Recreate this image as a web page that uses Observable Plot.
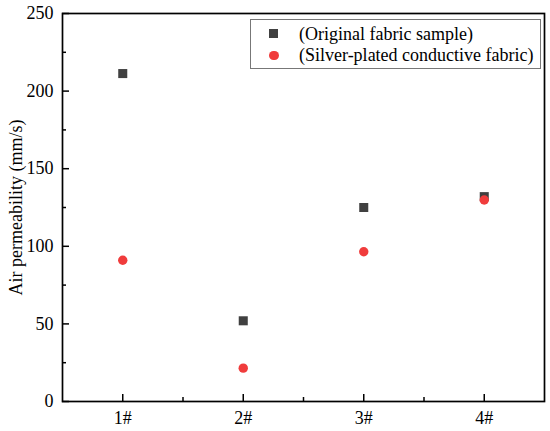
<!DOCTYPE html>
<html>
<head>
<meta charset="utf-8">
<script src="https://cdn.jsdelivr.net/npm/d3@7"></script>
<script src="https://cdn.jsdelivr.net/npm/@observablehq/plot@0.6"></script>
<style>
  body { margin: 0; background: white; }
  #wrap { position: relative; width: 550px; height: 431px; font-family: "Liberation Serif", "Times New Roman", serif; }
  #legend { position: absolute; left: 250px; top: 19px; width: 291px; height: 50px; border: 1px solid #777; box-sizing: border-box; background: white; }
  .row { position: absolute; left: 0; height: 20px; font-size: 18px; line-height: 20px; white-space: nowrap; }
  .row .txt { position: absolute; left: 48px; top: 0; }
  .row .mk { position: absolute; }
</style>
</head>
<body>
<div id="wrap"></div>
<script>
const samples = ["1#", "2#", "3#", "4#"];
const sampleIndex = [1, 2, 3, 4];
const seriesNames = ["(Original fabric sample)", "(Silver-plated conductive fabric)"];
const originalValues = [211.3, 52, 125, 132];
const silverValues = [91, 21.5, 96.5, 129.8];
const yTicks = [0, 50, 100, 150, 200, 250];
const yMinorTicks = [25, 75, 125, 175, 225];
const xMinorTicks = [1.5, 2.5, 3.5];
const colors = ["#404040", "#f03c3c"];

const original = sampleIndex.map((x, i) => ({x, v: originalValues[i]}));
const silver = sampleIndex.map((x, i) => ({x, v: silverValues[i]}));
const blank = () => "";

const chart = Plot.plot({
  width: 550,
  height: 431,
  marginLeft: 62,
  marginRight: 6,
  marginTop: 13,
  marginBottom: 30,
  style: {fontFamily: "Liberation Serif", fontSize: "18px", color: "black", background: "white"},
  x: {type: "linear", domain: [0.5, 4.5]},
  y: {domain: [0, 250]},
  marks: [
    Plot.axisY({ticks: yTicks, tickSize: 0, tickPadding: 9, label: "Air permeability (mm/s)", labelAnchor: "center", labelOffset: 53, labelArrow: "none"}),
    Plot.axisY({ticks: yTicks, tickSize: -7, strokeWidth: 1.5, tickFormat: blank, label: null}),
    Plot.axisY({ticks: yMinorTicks, tickSize: -4, strokeWidth: 1.5, tickFormat: blank, label: null}),
    Plot.axisX({ticks: sampleIndex, tickFormat: d => samples[d - 1], tickSize: 0, tickPadding: 9.5, label: null}),
    Plot.axisX({ticks: sampleIndex, tickSize: -7, strokeWidth: 1.5, tickFormat: blank, label: null}),
    Plot.axisX({ticks: xMinorTicks, tickSize: -4, strokeWidth: 1.5, tickFormat: blank, label: null}),
    Plot.frame({stroke: "black", strokeWidth: 1.7}),
    Plot.dot(original, {x: "x", y: "v", symbol: "square", r: 5.1, fill: colors[0]}),
    Plot.dot(silver, {x: "x", y: "v", symbol: "circle", r: 4.7, fill: colors[1]})
  ]
});

const wrap = document.getElementById("wrap");
wrap.appendChild(chart);

const legend = document.createElement("div");
legend.id = "legend";
const rowTops = [3.7, 25.3];
seriesNames.forEach((name, i) => {
  const row = document.createElement("div");
  row.className = "row";
  row.style.top = rowTops[i] + "px";
  const mk = document.createElement("div");
  mk.className = "mk";
  if (i === 0) {
    mk.style.cssText = `left:18px;top:5.5px;width:9px;height:9px;background:${colors[0]};`;
  } else {
    mk.style.cssText = `left:18px;top:5.3px;width:9.5px;height:9.5px;border-radius:50%;background:${colors[1]};`;
  }
  const txt = document.createElement("span");
  txt.className = "txt";
  txt.textContent = name;
  row.appendChild(mk);
  row.appendChild(txt);
  legend.appendChild(row);
});
wrap.appendChild(legend);
</script>
</body>
</html>
